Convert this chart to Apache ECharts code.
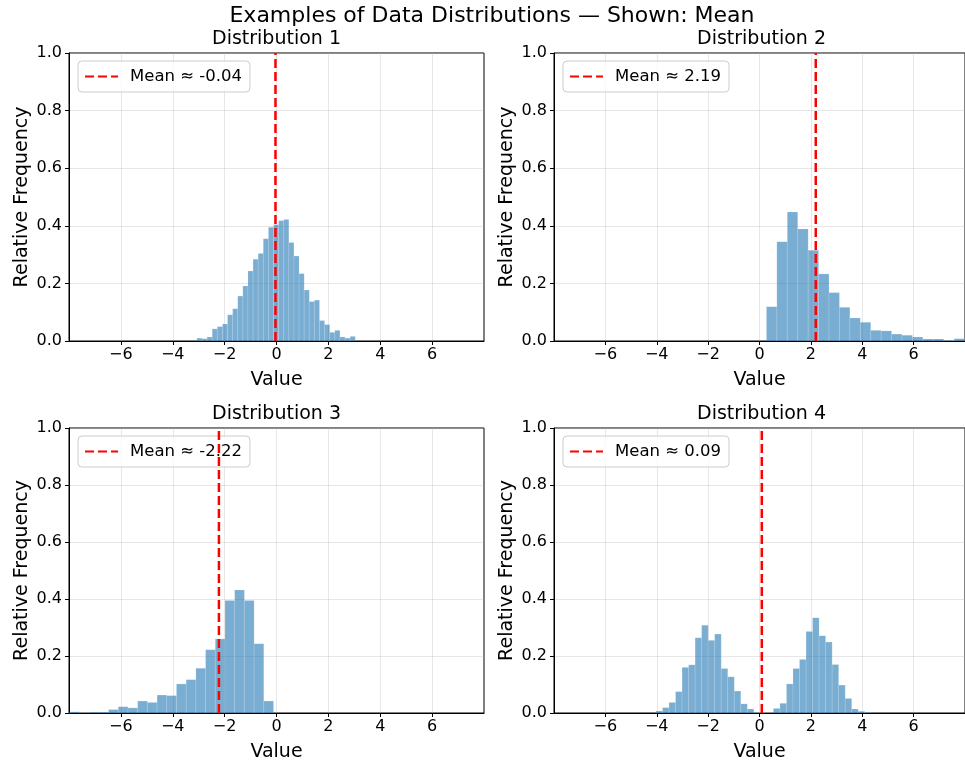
<!DOCTYPE html>
<html>
<head>
<meta charset="utf-8">
<script src="https://cdn.jsdelivr.net/npm/echarts@6/dist/echarts.min.js"></script>
<style>
  html, body { margin: 0; padding: 0; background: #fff; }
  #chart { width: 965px; height: 763px; }
</style>
</head>
<body>
<div id="chart"></div>
<script>
// Histogram heights (relative frequency / density) for each distribution,
// with the left edge of the first bin and the common bin width.
const dist1Start = -3.07, dist1Width = 0.197, dist1Mean = -0.04;
const dist1Values = [0.010, 0.008, 0.014, 0.042, 0.050, 0.059, 0.091, 0.112, 0.156, 0.191,
  0.243, 0.284, 0.304, 0.355, 0.395, 0.404, 0.418, 0.422, 0.342, 0.295,
  0.234, 0.177, 0.137, 0.142, 0.071, 0.057, 0.030, 0.037, 0.014, 0.010, 0.016];

const dist2Start = 0.27, dist2Width = 0.406, dist2Mean = 2.19;
const dist2Values = [0.119, 0.345, 0.448, 0.389, 0.315, 0.233, 0.168, 0.117, 0.080, 0.065,
  0.037, 0.035, 0.024, 0.020, 0.014, 0.007, 0.007, 0.002, 0.008];

const dist3Start = -7.97, dist3Width = 0.374, dist3Mean = -2.22;
const dist3Values = [0.004, 0.000, 0.003, 0.003, 0.012, 0.022, 0.018, 0.042, 0.037, 0.063,
  0.061, 0.102, 0.117, 0.157, 0.222, 0.260, 0.395, 0.432, 0.395, 0.243, 0.042];

const dist4Start = -4.03, dist4Width = 0.254, dist4Mean = 0.09;
const dist4Values = [0.007, 0.019, 0.037, 0.075, 0.160, 0.169, 0.264, 0.308, 0.255, 0.277,
  0.156, 0.127, 0.077, 0.032, 0.014, 0.002, 0.000, 0.000, 0.016, 0.034,
  0.102, 0.156, 0.188, 0.286, 0.334, 0.271, 0.249, 0.170, 0.098, 0.051,
  0.014, 0.006, 0.003];

const panelTitles = ['Distribution 1', 'Distribution 2', 'Distribution 3', 'Distribution 4'];
const xTickValues = [-6, -4, -2, 0, 2, 4, 6];
const xRange = [-8, 8];
const yRange = [0, 1];
const yStep = 0.2;

const panels = [
  { start: dist1Start, width: dist1Width, values: dist1Values, mean: dist1Mean },
  { start: dist2Start, width: dist2Width, values: dist2Values, mean: dist2Mean },
  { start: dist3Start, width: dist3Width, values: dist3Values, mean: dist3Mean },
  { start: dist4Start, width: dist4Width, values: dist4Values, mean: dist4Mean }
];

// Plot-area boxes for the 2x2 layout
const boxes = [
  { left: 69, top: 53 },
  { left: 554, top: 53 },
  { left: 69, top: 428 },
  { left: 554, top: 428 }
];
const boxW = 415, boxH = 288;

const FONT = 'DejaVu Sans';
const barFill = 'rgba(31,119,180,0.6)';

function binsOf(p) {
  return p.values.map((v, i) => [p.start + i * p.width, p.start + (i + 1) * p.width, v]);
}

function renderBin(params, api) {
  const x0 = api.value(0), x1 = api.value(1), h = api.value(2);
  const a = api.coord([x0, h]);
  const b = api.coord([x1, 0]);
  return {
    type: 'rect',
    shape: { x: a[0], y: a[1], width: b[0] - a[0], height: b[1] - a[1] },
    style: { fill: barFill, stroke: 'rgba(255,255,255,0.3)', lineWidth: 0.5 }
  };
}

const meanName = m => 'Mean \u2248 ' + m.toFixed(2);

const option = {
  animation: false,
  backgroundColor: '#ffffff',
  title: [
    {
      text: 'Examples of Data Distributions \u2014 Shown: Mean',
      left: 492, top: 5, textAlign: 'center', padding: 0,
      textStyle: { fontFamily: FONT, fontSize: 22, fontWeight: 'normal', color: '#000' }
    }
  ].concat(boxes.map((b, i) => ({
    text: panelTitles[i],
    left: b.left + boxW / 2, top: b.top - 23, textAlign: 'center', padding: 0,
    textStyle: { fontFamily: FONT, fontSize: 19, fontWeight: 'normal', color: '#000' }
  }))),
  legend: boxes.map((b, i) => ({
    data: [meanName(panels[i].mean)],
    left: b.left + 9, top: b.top + 8,
    orient: 'vertical',
    padding: [7, 8, 7, 6],
    itemWidth: 33, itemHeight: 14,
    backgroundColor: 'rgba(255,255,255,0.8)',
    borderColor: '#cccccc', borderWidth: 1, borderRadius: 4,
    selectedMode: false,
    itemStyle: { opacity: 0 },
    textStyle: { fontFamily: FONT, fontSize: 16.5, color: '#000', padding: [0, 0, 0, 7] }
  })),
  grid: boxes.map(b => ({
    left: b.left, top: b.top, width: boxW, height: boxH,
    show: true, borderColor: '#000', borderWidth: 1, backgroundColor: 'transparent',
    containLabel: false
  })),
  xAxis: boxes.map((b, i) => ({
    type: 'value', gridIndex: i,
    min: xRange[0], max: xRange[1], interval: 2,
    name: 'Value', nameLocation: 'middle', nameGap: 30,
    nameTextStyle: { fontFamily: FONT, fontSize: 19, color: '#000' },
    axisLine: { show: true, onZero: false, lineStyle: { color: '#000', width: 1 } },
    axisTick: { show: true, length: 4, customValues: xTickValues, lineStyle: { color: '#000' } },
    axisLabel: { customValues: xTickValues, fontFamily: FONT, fontSize: 16, color: '#000', margin: 6,
      formatter: v => (v < 0 ? '\u2212' + Math.abs(v) : String(v)) },
    splitLine: { show: true, lineStyle: { color: 'rgba(176,176,176,0.38)', width: 0.8 } }
  })),
  yAxis: boxes.map((b, i) => ({
    type: 'value', gridIndex: i,
    min: yRange[0], max: yRange[1], interval: yStep,
    name: 'Relative Frequency', nameLocation: 'middle', nameGap: 37,
    nameTextStyle: { fontFamily: FONT, fontSize: 19, color: '#000' },
    axisLine: { show: true, onZero: false, lineStyle: { color: '#000', width: 1 } },
    axisTick: { show: true, length: 4, lineStyle: { color: '#000' } },
    axisLabel: { fontFamily: FONT, fontSize: 16, color: '#000', margin: 7,
      formatter: v => v.toFixed(1) },
    splitLine: { show: true, lineStyle: { color: 'rgba(176,176,176,0.38)', width: 0.8 } }
  })),
  series: []
};

panels.forEach((p, i) => {
  option.series.push({
    type: 'custom',
    name: 'hist' + (i + 1),
    xAxisIndex: i, yAxisIndex: i,
    renderItem: renderBin,
    encode: { x: [0, 1], y: 2 },
    clip: true,
    z: 2,
    data: binsOf(p)
  });
  option.series.push({
    type: 'line',
    name: meanName(p.mean),
    xAxisIndex: i, yAxisIndex: i,
    data: [[p.mean, yRange[0]], [p.mean, yRange[1]]],
    showSymbol: false, symbol: 'none',
    color: '#ff0000',
    lineStyle: { color: '#ff0000', width: 2.5, type: [9, 4] },
    z: 5
  });
});

const chart = echarts.init(document.getElementById('chart'), null, { renderer: 'canvas' });
chart.setOption(option);
</script>
</body>
</html>
